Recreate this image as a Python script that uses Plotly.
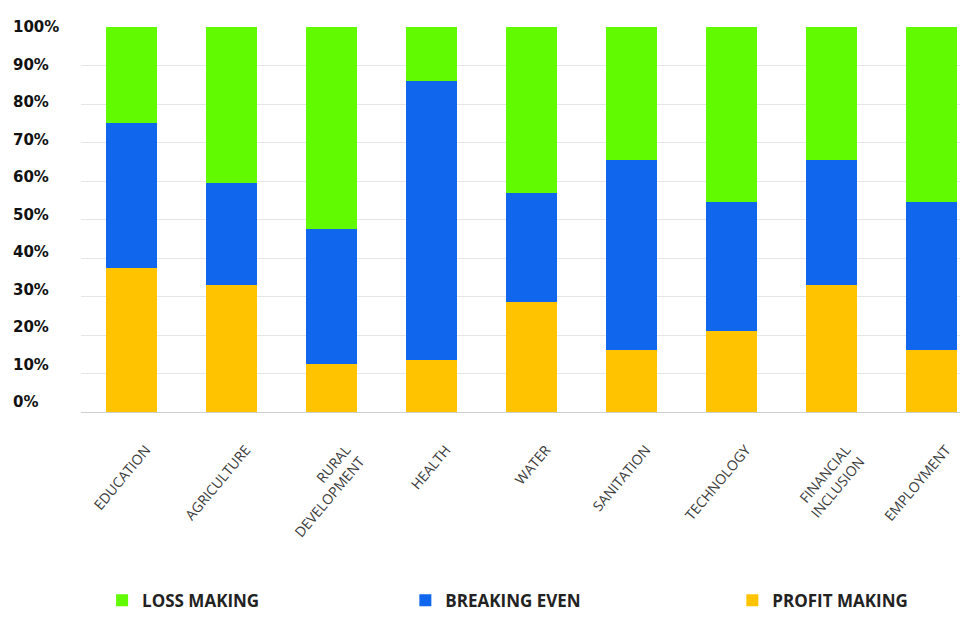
import plotly.graph_objects as go

categories = ["EDUCATION", "AGRICULTURE", "RURAL<br>DEVELOPMENT", "HEALTH", "WATER",
              "SANITATION", "TECHNOLOGY", "FINANCIAL<br>INCLUSION", "EMPLOYMENT"]
profit_making = [37.5, 33.0, 12.5, 13.5, 28.5, 16.0, 21.0, 33.0, 16.0]
breaking_even = [37.5, 26.5, 35.0, 72.5, 28.5, 49.5, 33.5, 32.5, 38.5]
loss_making = [25.0, 40.5, 52.5, 14.0, 43.0, 34.5, 45.5, 34.5, 45.5]
y_ticks = [0, 10, 20, 30, 40, 50, 60, 70, 80, 90, 100]
y_tick_labels = [f"{v}%" for v in y_ticks]

GREEN = "#62FA00"
BLUE = "#1166EE"
YELLOW = "#FFC300"

x_idx = list(range(len(categories)))

fig = go.Figure()
fig.add_trace(go.Bar(x=x_idx, y=profit_making, name="PROFIT MAKING", legend="legend3",
                     marker=dict(color=YELLOW, line=dict(width=0)), width=0.51))
fig.add_trace(go.Bar(x=x_idx, y=breaking_even, name="BREAKING EVEN", legend="legend2",
                     marker=dict(color=BLUE, line=dict(width=0)), width=0.51))
fig.add_trace(go.Bar(x=x_idx, y=loss_making, name="LOSS MAKING", legend="legend",
                     marker=dict(color=GREEN, line=dict(width=0)), width=0.51))

annotations = []
for v, t in zip(y_ticks, y_tick_labels):
    annotations.append(dict(
        x=-0.080, xref="paper", xanchor="left",
        y=v, yref="y", yanchor="middle", yshift=(100 - v) / 10,
        text=t, showarrow=False,
        font=dict(family="DejaVu Sans", size=15, color="#111111", weight="bold"),
    ))

legend_font = dict(family="Open Sans", size=17, color="#222222", weight="bold")
def legend_at(x):
    return dict(orientation="h", x=x, xanchor="left", y=-0.49, yanchor="middle",
                font=legend_font, itemclick=False, itemdoubleclick=False,
                bgcolor="rgba(0,0,0,0)")

fig.update_layout(
    barmode="stack",
    width=960, height=638,
    margin=dict(l=81, r=0, t=27, b=226, autoexpand=False),
    paper_bgcolor="white", plot_bgcolor="white",
    showlegend=True,
    legend=legend_at(0.024),
    legend2=legend_at(0.369),
    legend3=legend_at(0.741),
    xaxis=dict(
        range=[-0.5, 8.29], automargin=False,
        tickmode="array", tickvals=x_idx, ticktext=categories,
        tickangle=-50, ticks="", showgrid=False, zeroline=False, showline=False,
        tickfont=dict(family="Open Sans", size=14, color="#3A3A3A"),
        ticklabelshift=15, ticklabelstandoff=26, ticklabeloverflow="allow",
    ),
    yaxis=dict(
        range=[0, 100], tickvals=y_ticks, showticklabels=False, automargin=False,
        showgrid=True, gridcolor="#E6E6E6", gridwidth=1,
        zeroline=True, zerolinecolor="#CFCFCF", zerolinewidth=1,
    ),
    bargap=0.49,
    annotations=annotations,
)

fig.write_html("out.html")
